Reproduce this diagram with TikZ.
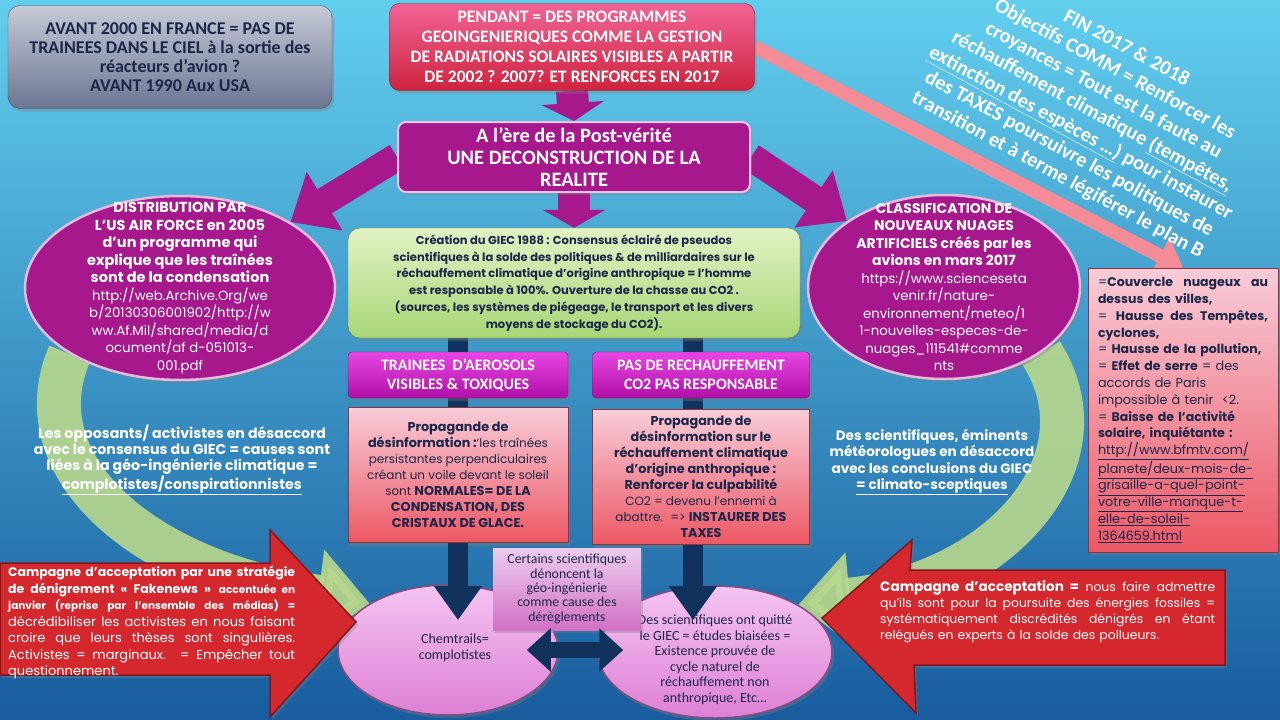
\documentclass[tikz,border=0pt]{standalone}
\usepackage{fontspec}
\setmainfont{Poppins}
\newfontfamily\twfont{Carlito}
\usepackage{xcolor}
\definecolor{bgtop}{RGB}{98,206,238}
\definecolor{bgbot}{RGB}{24,92,158}
\definecolor{navytext}{RGB}{28,38,74}
\definecolor{navyfill}{RGB}{16,50,92}
\definecolor{graytop}{RGB}{198,202,214}
\definecolor{graybot}{RGB}{108,118,146}
\definecolor{redtop}{RGB}{242,100,150}
\definecolor{redbot}{RGB}{206,36,62}
\definecolor{purplemain}{RGB}{166,24,140}
\definecolor{greentop}{RGB}{226,242,196}
\definecolor{greenbot}{RGB}{168,214,118}
\definecolor{magtop}{RGB}{232,70,228}
\definecolor{magbot}{RGB}{176,16,166}
\definecolor{pinktop}{RGB}{248,204,216}
\definecolor{pinkbot}{RGB}{236,88,100}
\definecolor{lilactop}{RGB}{236,204,238}
\definecolor{lilacbot}{RGB}{210,112,196}
\definecolor{bubtop}{RGB}{244,196,242}
\definecolor{bubbot}{RGB}{222,128,212}
\definecolor{arrowred}{RGB}{212,40,46}
\definecolor{arcgreen}{RGB}{184,216,140}
\definecolor{salmon}{RGB}{244,140,152}
\usetikzlibrary{arrows.meta, positioning, shapes.geometric, shadows}
\pgfdeclarelayer{back}
\pgfdeclarelayer{arcs}
\pgfdeclarelayer{links}
\pgfsetlayers{back,arcs,links,main}
\newcommand{\setfs}[2]{\fontsize{#1}{#2}\selectfont}
\newcommand{\jline}[2]{\makebox[#1][s]{\spaceskip=0pt\xspaceskip=0pt #2}}
\newcommand{\bsz}[2]{{\fontsize{#1}{#1}\selectfont\bfseries #2}}

\begin{document}
\begin{tikzpicture}[x=1pt, y=-1pt,
  softshadow/.style={drop shadow={opacity=.35, shadow xshift=2pt, shadow yshift=-3pt}},
  graybox/.style={rounded corners=12pt, top color=graytop, bottom color=graybot, draw=graybot!70!black, softshadow, text=navytext, align=center, font=\twfont\bfseries\setfs{18}{19}},
  redbox/.style={rounded corners=10pt, top color=redtop, bottom color=redbot, draw=redbot!70!black, softshadow, text=white, align=center, font=\twfont\bfseries\setfs{17.5}{20}},
  purplebox/.style={rounded corners=8pt, fill=purplemain, draw=white!75!purplemain, line width=2pt, softshadow, text=white, align=center, font=\twfont\bfseries\setfs{20.5}{22}},
  bubble/.style={ellipse, fill=purplemain, draw=white!70!purplemain, line width=2.5pt, softshadow, inner sep=0pt},
  bubbletext/.style={text=white, align=center, font=\setfs{13.3}{17.5}},
  greenbox/.style={rounded corners=12pt, top color=greentop, bottom color=greenbot, draw=greenbot!60!black, softshadow, text=navytext, align=center, font=\bfseries\setfs{11.5}{16.8}},
  magbox/.style={rounded corners=4pt, top color=magtop, bottom color=magbot, draw=magbot!70!black, softshadow, text=white, align=center, font=\twfont\bfseries\setfs{16}{19}},
  pinkbox/.style={top color=pinktop, bottom color=pinkbot, draw=pinkbot!60!black, softshadow, text=navytext, align=center, font=\setfs{12}{16}},
  lilacbox/.style={top color=lilactop, bottom color=lilacbot, softshadow, text=navytext, align=center, font=\twfont\setfs{13.8}{14.4}},
  pillow/.style={ellipse, top color=bubtop, bottom color=bubbot, draw=bubbot!60!black, line width=1.5pt, softshadow, inner sep=0pt},
  pillowtext/.style={text=navytext, align=center, font=\twfont\setfs{14}{15.5}},
  whitetext/.style={text=white, align=center, font=\bfseries\setfs{14.2}{16.3}},
  arrowtext/.style={text=white, align=left, inner sep=0pt, anchor=north west, font=\setfs{13}{16.5}},
  redshape/.style={fill=arrowred, draw=arrowred!60!black, line width=1.5pt, softshadow},
  purplearrow/.style={purplemain, line width=32pt, -{Triangle[length=18pt, width=62pt]}},
  purplediag/.style={purplemain, line width=28pt, -{Triangle[length=40pt, width=66pt]}},
  navystem/.style={navyfill, line width=20pt},
  navyarrow/.style={navyfill, line width=20pt, -{Triangle[length=34pt, width=46pt]}},
  navydouble/.style={navyfill, line width=16pt, {Triangle[length=24pt, width=42pt]}-{Triangle[length=24pt, width=42pt]}},
  salmonarrow/.style={salmon, line width=14pt, -{Triangle[length=26pt, width=40pt]}},
  arcarrow/.style={arcgreen, opacity=.9, line width=44pt, -{Triangle[length=52pt, width=92pt]}}
]
\useasboundingbox (0,0) rectangle (1280,720);
\begin{pgfonlayer}{back}
  \shade[top color=bgtop, bottom color=bgbot] (0,0) rectangle (1280,720);
\end{pgfonlayer}

% === Top row ===
\node[graybox, minimum width=324pt, minimum height=103pt] (avant) at (170,57)
  {AVANT 2000 EN FRANCE = PAS DE\\TRAINEES DANS LE CIEL à la sortie des\\réacteurs d’avion ?\\AVANT 1990 Aux USA};
\node[redbox, minimum width=365pt, minimum height=87pt] (pendant) at (572,47)
  {PENDANT = DES PROGRAMMES\\GEOINGENIERIQUES COMME LA GESTION\\DE RADIATIONS SOLAIRES VISIBLES A PARTIR\\DE 2002 ? 2007? ET RENFORCES EN 2017};
\node[purplebox, minimum width=352pt, minimum height=70pt] (postverite) at (574,157)
  {A l’ère de la Post-vérité\\UNE DECONSTRUCTION DE LA\\REALITE};

% rotated objectives
\node[rotate=-28.5, text=white, align=center, font=\twfont\bfseries\setfs{20.5}{24}] (objectifs) at (1092,112)
  {FIN 2017 \& 2018\\Objectifs COMM = Renforcer les\\croyances = Tout est la faute au\\réchauffement climatique \underline{(tempêtes,}\\\underline{extinction des espèces …)} pour instaurer\\des TAXES poursuivre les politiques de\\transition et à terme légiférer le plan B};

% === Side bubbles ===
\node[bubble, minimum width=310pt, minimum height=184pt] (usaf) at (180,288) {};
\node[bubbletext] (usaftext) at (usaf.center)
  {\bsz{14.5}{DISTRIBUTION PAR}\\\bsz{14.5}{L’US AIR FORCE en 2005}\\\bsz{14.5}{d’un programme qui}\\\bsz{14.5}{explique que les traînées}\\\bsz{14.5}{sont de la condensation}\\http://web.Archive.Org/we\\b/20130306001902/http://w\\ww.Af.Mil/shared/media/d\\ocument/af d-051013-\\001.pdf};
\node[bubble, minimum width=272pt, minimum height=184pt] (nuages) at (944,287) {};
\node[bubbletext] (nuagestext) at (nuages.center)
  {\bsz{14}{CLASSIFICATION DE}\\\bsz{14}{NOUVEAUX NUAGES}\\\bsz{14}{ARTIFICIELS créés par les}\\\bsz{14}{avions en mars 2017}\\https://www.scienceseta\\venir.fr/nature-\\environnement/meteo/1\\1-nouvelles-especes-de-\\nuages\_111541\#comme\\nts};

% === Centre column ===
\node[greenbox, minimum width=452pt, minimum height=110pt] (giec) at (574,283)
  {Création du GIEC 1988 : Consensus éclairé de pseudos\\scientifiques à la solde des politiques \& de milliardaires sur le\\réchauffement climatique d’origine anthropique = l’homme\\est responsable à 100\%. Ouverture de la chasse au CO2 .\\(sources, les systèmes de piégeage, le transport et les divers\\moyens de stockage du CO2).};
\node[magbox, minimum width=220pt, minimum height=46pt] (trainees) at (458,375)
  {TRAINEES~ D’AEROSOLS\\VISIBLES \& TOXIQUES};
\node[magbox, minimum width=217pt, minimum height=46pt] (rechauff) at (701,375)
  {PAS DE RECHAUFFEMENT\\CO2 PAS RESPONSABLE};
\node[pinkbox, minimum width=220pt, minimum height=135pt] (propa1) at (458,475)
  {\bsz{12.8}{Propagande de}\\\bsz{12.8}{désinformation :}’les traînées\\persistantes perpendiculaires\\créant un voile devant le soleil\\sont \bsz{12.8}{NORMALES= DE LA}\\\bsz{12.8}{CONDENSATION, DES}\\\bsz{12.8}{CRISTAUX DE GLACE.}};
\node[pinkbox, minimum width=217pt, minimum height=135pt] (propa2) at (701,477)
  {\bsz{12.8}{Propagande de}\\\bsz{12.8}{désinformation sur le}\\\bsz{12.8}{réchauffement climatique}\\\bsz{12.8}{d’origine anthropique :}\\\bsz{12.8}{Renforcer la culpabilité}\\CO2 = devenu l’ennemi à\\abattre.~ => \bsz{12.8}{INSTAURER DES}\\\bsz{12.8}{TAXES}};

% === Bottom bubbles ===
\node[pillow, minimum width=220pt, minimum height=130pt] (chem) at (448,650) {};
\node[pillowtext] (chemtext) at (455,648) {Chemtrails=\\complotistes};
\node[pillow, minimum width=234pt, minimum height=132pt] (quit) at (715,652) {};
\node[pillowtext] (quittext) at (715,660)
  {Des scientifiques ont quitté\\le GIEC = études biaisées =\\Existence prouvée de\\cycle naturel de\\réchauffement non\\anthropique, Etc…};
\node[lilacbox, minimum width=148pt, minimum height=82pt] (certains) at (567,589)
  {Certains scientifiques\\dénoncent la\\géo-ingénierie\\comme cause des\\dérèglements};

% === Side texts ===
\node[whitetext] (opposants) at (182,460)
  {Les opposants/ activistes en désaccord\\avec le consensus du GIEC = causes sont\\liées à la géo-ingénierie climatique =\\\underline{complotistes/conspirationnistes}};
\node[whitetext, font=\bfseries\setfs{13.6}{16.3}] (sceptiques) at (932,462)
  {Des scientifiques, éminents\\météorologues en désaccord\\avec les conclusions du GIEC\\\underline{= climato-sceptiques}};

% === Right pink list ===
\node[pinkbox, minimum width=190pt, minimum height=284pt, text width=170pt, align=left, font=\setfs{12.8}{16.8}] (meteo) at (1183,410)
  {\jline{170pt}{=\bsz{12.5}{Couvercle nuageux au}}\\\bsz{12.5}{dessus des villes,}\\\jline{170pt}{= \bsz{12.5}{Hausse des Tempêtes,}}\\\bsz{12.5}{cyclones,}\\= \bsz{12.5}{Hausse de la pollution,}\\= \bsz{12.5}{Effet de serre} = des\\accords de Paris\\impossible à tenir~ <2.\\= \bsz{12.5}{Baisse de l’activité}\\\bsz{12.5}{solaire, inquiétante :}\\\underline{http://www.bfmtv.com/}\\\underline{planete/deux-mois-de-}\\\underline{grisaille-a-quel-point-}\\\underline{votre-ville-manque-t-}\\\underline{elle-de-soleil-}\\\underline{1364659.html}};

% === Big red arrows ===
\filldraw[redshape] (0,563) -- (270,563) -- (270,530) -- (356,622) -- (270,717) -- (270,675) -- (0,675) -- cycle;
\node[arrowtext, text width=287pt] (fakenews) at (8,566)
  {\jline{287pt}{\bsz{12.5}{Campagne d’acceptation par une stratégie}}\\
   \jline{287pt}{\bsz{12.5}{de dénigrement « Fakenews »} \bsz{10.5}{accentuée en}}\\
   \jline{287pt}{\bsz{10.5}{janvier (reprise par l’ensemble des médias) =}}\\
   \jline{287pt}{décrédibiliser les activistes en nous faisant}\\
   \jline{287pt}{croire que leurs thèses sont singulières.}\\
   \jline{287pt}{Activistes = marginaux. = Empêcher tout}\\
   questionnement.};
\filldraw[redshape] (1225,570) -- (910,570) -- (912,540) -- (822,618) -- (916,713) -- (914,665) -- (1225,665) -- cycle;
\node[arrowtext, text width=335pt, font=\setfs{12.4}{16.2}] (acceptation) at (880,580)
  {\jline{335pt}{\bsz{13.6}{Campagne d’acceptation =} nous faire admettre}\\
   \jline{335pt}{qu’ils sont pour la poursuite des énergies fossiles =}\\
   \jline{335pt}{systématiquement discrédités dénigrés en étant}\\
   relégués en experts à la solde des pollueurs.};

% === Connectors ===
\coordinate (chemtop) at (458,620);
\coordinate (quittop) at (693,620);
\begin{pgfonlayer}{arcs}
  \draw[arcarrow] (usaf.south west) .. controls (20,470) and (150,575) .. (chem.north west);
  \draw[arcarrow] (nuages.south east) .. controls (1110,460) and (1000,585) .. (quit.north east);
\end{pgfonlayer}
\begin{pgfonlayer}{links}
  \draw[purplearrow] (pendant.south) -- (postverite.north);
  \draw[purplearrow] (postverite.south) -- (giec.north);
  \draw[purplediag] (postverite.west) -- (usaf.north east);
  \draw[purplediag] (postverite.east) -- (nuages.north west);
  \draw[navystem] (giec.south -| trainees.north) -- (trainees.north);
  \draw[navystem] (trainees.south) -- (propa1.north);
  \draw[navystem] (giec.south -| quittop) -- (rechauff.north -| quittop);
  \draw[navystem] (rechauff.south -| quittop) -- (propa2.north -| quittop);
  \draw[salmonarrow] (pendant.east) -- (meteo.north);
\end{pgfonlayer}
\draw[navyarrow] (propa1.south) -- (chemtop);
\draw[navyarrow] (propa2.south -| quittop) -- (quittop);
\draw[navydouble, shorten <=-32pt, shorten >=-26pt] (chem.east) -- (quit.west |- chem.east);

\end{tikzpicture}
\end{document}
